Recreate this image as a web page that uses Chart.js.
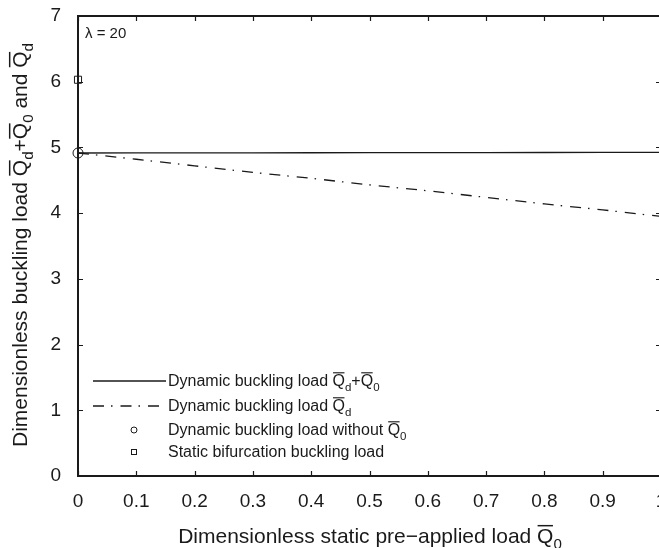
<!DOCTYPE html>
<html>
<head>
<meta charset="utf-8">
<script src="https://cdn.jsdelivr.net/npm/chart.js@4.4.1/dist/chart.umd.min.js"></script>
<style>
  html, body { margin: 0; padding: 0; background: #fff; overflow: hidden; }
  #wrap { position: absolute; left: 0; top: 0; width: 700px; height: 548px; }
</style>
</head>
<body>
<div id="wrap"><canvas id="chart" width="700" height="548"></canvas></div>
<script>
// data
const preLoad = [0, 0.1, 0.2, 0.3, 0.4, 0.5, 0.6, 0.7, 0.8, 0.9, 1.0];
const totalLoad = [4.915, 4.916, 4.917, 4.918, 4.919, 4.92, 4.921, 4.922, 4.923, 4.924, 4.925];
const dynLoad = [4.915, 4.82, 4.72, 4.62, 4.53, 4.43, 4.34, 4.24, 4.14, 4.05, 3.95];
const noPreLoad = [{ x: 0, y: 4.915 }];
const staticLoad = [{ x: 0, y: 6.03 }];
const xTicks = [0, 0.1, 0.2, 0.3, 0.4, 0.5, 0.6, 0.7, 0.8, 0.9, 1];
const yTicks = [0, 1, 2, 3, 4, 5, 6, 7];

const FONT = '"Liberation Sans", Arial, Helvetica, sans-serif';
const INK = "#1a1a1a";
const DASHDOT = [11, 7, 1.5, 8];

// text with overlined Q and subscripts, parts laid out left to right
function richWidth(ctx, parts, size) {
  let w = 0;
  parts.forEach((p) => {
    ctx.font = `${p.sub ? size * 0.72 : size}px ${FONT}`;
    w += ctx.measureText(p.t).width;
  });
  return w;
}

function drawRich(ctx, parts, x, y, size) {
  let cx = x;
  parts.forEach((p) => {
    const s = p.sub ? size * 0.72 : size;
    ctx.font = `${s}px ${FONT}`;
    const dy = p.sub ? size * 0.3 : 0;
    ctx.fillText(p.t, cx, y + dy);
    const w = ctx.measureText(p.t).width;
    if (p.bar) {
      const by = y - size * 0.86;
      ctx.fillRect(cx + 0.5, by, w - 1, Math.max(1, size * 0.07));
    }
    cx += w;
  });
}

const Q = (sub) => [{ t: "Q", bar: true }, { t: sub, sub: true }];

const decorPlugin = {
  id: "decor",
  afterDraw(chart) {
    const ctx = chart.ctx;
    const { left, right, top, bottom } = chart.chartArea;
    const xs = chart.scales.x;
    const ys = chart.scales.y;
    ctx.save();
    ctx.strokeStyle = INK;
    ctx.fillStyle = INK;

    // inward tick marks on all four sides
    ctx.lineWidth = 1.2;
    ctx.beginPath();
    xTicks.forEach((v) => {
      const px = Math.round(xs.getPixelForValue(v)) + 0.5;
      ctx.moveTo(px, bottom); ctx.lineTo(px, bottom - 5);
      ctx.moveTo(px, top); ctx.lineTo(px, top + 5);
    });
    yTicks.forEach((v) => {
      const py = Math.round(ys.getPixelForValue(v)) + 0.5;
      ctx.moveTo(left, py); ctx.lineTo(left + 5, py);
      ctx.moveTo(right, py); ctx.lineTo(right - 5, py);
    });
    ctx.stroke();

    // box
    ctx.lineWidth = 2;
    ctx.strokeRect(left, top, right - left, bottom - top);

    // annotation
    ctx.textBaseline = "alphabetic";
    ctx.textAlign = "left";
    ctx.font = `15px ${FONT}`;
    ctx.fillText("\u03bb = 20", 85, 38);

    // legend
    const lx0 = 93, lx1 = 166, tx = 168;
    const rows = [381, 406, 430, 452];
    ctx.lineWidth = 1.3;
    ctx.beginPath();
    ctx.moveTo(lx0, rows[0]); ctx.lineTo(lx1, rows[0]);
    ctx.stroke();
    ctx.setLineDash(DASHDOT);
    ctx.beginPath();
    ctx.moveTo(lx0, rows[1]); ctx.lineTo(lx1, rows[1]);
    ctx.stroke();
    ctx.setLineDash([]);
    ctx.lineWidth = 1;
    ctx.beginPath();
    ctx.arc(134, rows[2], 3, 0, Math.PI * 2);
    ctx.stroke();
    ctx.strokeRect(131.5, rows[3] - 2.5, 5, 5);

    const ls = 16;
    const base = (r) => r + 5;
    drawRich(ctx, [{ t: "Dynamic buckling load " }, ...Q("d"), { t: "+" }, ...Q("0")], tx, base(rows[0]), ls);
    drawRich(ctx, [{ t: "Dynamic buckling load " }, ...Q("d")], tx, base(rows[1]), ls);
    drawRich(ctx, [{ t: "Dynamic buckling load without " }, ...Q("0")], tx, base(rows[2]), ls);
    drawRich(ctx, [{ t: "Static bifurcation buckling load" }], tx, base(rows[3]), ls);

    // axis titles
    const ts = 21;
    const xParts = [{ t: "Dimensionless static pre\u2212applied load " }, ...Q("0")];
    const xw = richWidth(ctx, xParts, ts);
    drawRich(ctx, xParts, 370 - xw / 2, 543, ts);

    const yParts = [{ t: "Dimensionless buckling load " }, ...Q("d"), { t: "+" }, ...Q("0"), { t: " and " }, ...Q("d")];
    const yw = richWidth(ctx, yParts, ts);
    ctx.translate(27, 245);
    ctx.rotate(-Math.PI / 2);
    drawRich(ctx, yParts, -yw / 2, 0, ts);
    ctx.restore();
  },
};

new Chart(document.getElementById("chart"), {
  type: "line",
  data: {
    labels: preLoad,
    datasets: [
      {
        data: preLoad.map((x, i) => ({ x, y: totalLoad[i] })),
        borderColor: INK,
        borderWidth: 1.3,
        pointRadius: 0,
        fill: false,
      },
      {
        data: preLoad.map((x, i) => ({ x, y: dynLoad[i] })),
        borderColor: INK,
        borderWidth: 1.3,
        borderDash: DASHDOT,
        pointRadius: 0,
        fill: false,
      },
      {
        data: noPreLoad,
        showLine: false,
        pointStyle: "circle",
        pointRadius: 5,
        borderColor: INK,
        borderWidth: 1,
        backgroundColor: "rgba(0,0,0,0)",
        clip: false,
      },
      {
        data: staticLoad,
        showLine: false,
        pointStyle: "rect",
        pointRadius: 5,
        borderColor: INK,
        borderWidth: 1,
        backgroundColor: "rgba(0,0,0,0)",
        clip: false,
      },
    ],
  },
  options: {
    responsive: false,
    animation: false,
    events: [],
    layout: { padding: 0 },
    plugins: { legend: { display: false }, tooltip: { enabled: false } },
    scales: {
      x: {
        type: "linear",
        min: 0,
        max: 1,
        afterBuildTicks: (s) => { s.ticks = xTicks.map((v) => ({ value: v })); },
        afterFit: (s) => { s.height = 72; s.paddingLeft = 0; s.paddingRight = 0; },
        grid: { display: false, drawTicks: false },
        border: { display: false },
        ticks: {
          color: INK,
          font: { family: FONT, size: 19 },
          padding: 14,
          maxRotation: 0,
          autoSkip: false,
          callback: (v) => String(Math.round(v * 10) / 10),
        },
      },
      xTop: {
        type: "linear",
        position: "top",
        min: 0,
        max: 1,
        afterFit: (s) => { s.height = 16; },
        grid: { display: false, drawTicks: false },
        border: { display: false },
        ticks: { display: false },
      },
      y: {
        type: "linear",
        min: 0,
        max: 7,
        afterBuildTicks: (s) => { s.ticks = yTicks.map((v) => ({ value: v })); },
        afterFit: (s) => { s.width = 78; s.paddingTop = 0; s.paddingBottom = 0; },
        grid: { display: false, drawTicks: false },
        border: { display: false },
        ticks: {
          color: INK,
          font: { family: FONT, size: 19 },
          padding: 17,
        },
      },
      yRight: {
        type: "linear",
        position: "right",
        min: 0,
        max: 7,
        afterFit: (s) => { s.width = 39; },
        grid: { display: false, drawTicks: false },
        border: { display: false },
        ticks: { display: false },
      },
    },
  },
  plugins: [decorPlugin],
});
</script>
</body>
</html>
